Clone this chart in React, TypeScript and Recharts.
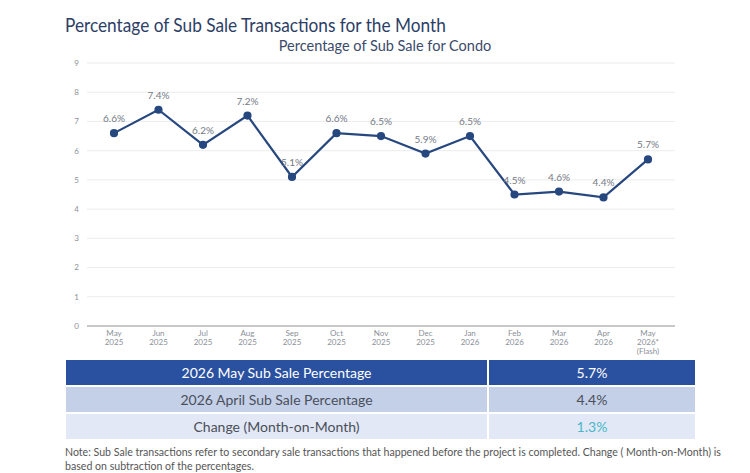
import React from 'react';
import {
  LineChart,
  Line,
  XAxis,
  YAxis,
  CartesianGrid,
  LabelList,
} from 'recharts';

const categories = [
  'May\n2025', 'Jun\n2025', 'Jul\n2025', 'Aug\n2025', 'Sep\n2025', 'Oct\n2025', 'Nov\n2025',
  'Dec\n2025', 'Jan\n2026', 'Feb\n2026', 'Mar\n2026', 'Apr\n2026', 'May\n2026*\n(Flash)',
];
const subSalePct = [6.6, 7.4, 6.2, 7.2, 5.1, 6.6, 6.5, 5.9, 6.5, 4.5, 4.6, 4.4, 5.7];
const yTicks = [0, 1, 2, 3, 4, 5, 6, 7, 8, 9];

const summaryLabels = ['2026 May Sub Sale Percentage', '2026 April Sub Sale Percentage', 'Change (Month-on-Month)'];
const summaryValues = ['5.7%', '4.4%', '1.3%'];

const data = categories.map((name, i) => ({ name, value: subSalePct[i] }));

const FONT = 'Lato, "Open Sans", sans-serif';
const NAVY = '#27477f';

// month / year / optional flash note stacked under each point
const MultiLineTick = (props: any) => {
  const { x, y, payload } = props;
  const lines = String(payload.value).split('\n');
  return (
    <text x={x} y={y + 2} textAnchor="middle" fill="#8a8f99" fontSize={8} fontFamily={FONT}>
      {lines.map((line, i) => (
        <tspan key={i} x={x} dy={i === 0 ? 0 : 9}>
          {line}
        </tspan>
      ))}
    </text>
  );
};

const rowStyles = [
  { background: '#2a51a0', color: '#ffffff', valueColor: '#ffffff' },
  { background: '#c4cfe8', color: '#4a4f5a', valueColor: '#4a4f5a' },
  { background: '#e2e8f5', color: '#4a4f5a', valueColor: '#45b8c9' },
];

export default function App() {
  return (
    <div style={{ position: 'absolute', left: 0, top: 0, width: 750, height: 473, background: '#fff', fontFamily: FONT, overflow: 'hidden' }}>
      <div
        style={{
          position: 'absolute',
          left: 65,
          top: 13,
          fontSize: 19,
          color: '#2c3e66',
          whiteSpace: 'nowrap',
          transform: 'scaleX(0.907)',
          transformOrigin: 'left top',
        }}
      >
        Percentage of Sub Sale Transactions for the Month
      </div>
      <div style={{ position: 'absolute', left: 0, width: 770, top: 37, fontSize: 14.5, color: '#3b4a6b', textAlign: 'center' }}>
        Percentage of Sub Sale for Condo
      </div>

      <div style={{ position: 'absolute', left: 0, top: 0 }}>
        <LineChart width={750} height={360} data={data} margin={{ top: 63, right: 75, left: 57, bottom: 4 }}>
          <CartesianGrid vertical={false} stroke="#ececec" />
          <XAxis
            dataKey="name"
            interval={0}
            tick={<MultiLineTick />}
            tickLine={false}
            axisLine={{ stroke: '#b8b8b8', strokeWidth: 1.5 }}
            padding={{ left: 27, right: 27 }}
            height={30}
          />
          <YAxis
            domain={[0, 9]}
            ticks={yTicks}
            width={30}
            axisLine={false}
            tickLine={false}
            tick={{ fill: '#8a8f99', fontSize: 8, fontFamily: FONT }}
          />
          <Line
            type="linear"
            dataKey="value"
            stroke={NAVY}
            strokeWidth={2.2}
            dot={{ r: 3, fill: NAVY, stroke: NAVY }}
            isAnimationActive={false}
          >
            <LabelList
              dataKey="value"
              position="top"
              offset={11}
              formatter={(v: any) => `${Number(v).toFixed(1)}%`}
              style={{ fill: '#747a86', fontSize: 10, fontFamily: FONT }}
            />
          </Line>
        </LineChart>
      </div>

      <div style={{ position: 'absolute', left: 66, top: 360, width: 629 }}>
        {summaryLabels.map((label, i) => (
          <div
            key={label}
            style={{
              display: 'flex',
              height: 25,
              marginBottom: 2,
              fontSize: 14,
              lineHeight: '25px',
            }}
          >
            <div style={{ width: 421, textAlign: 'center', background: rowStyles[i].background, color: rowStyles[i].color, marginRight: 2 }}>
              {label}
            </div>
            <div style={{ flex: 1, textAlign: 'center', background: rowStyles[i].background, color: rowStyles[i].valueColor }}>
              {summaryValues[i]}
            </div>
          </div>
        ))}
      </div>

      <div style={{ position: 'absolute', left: 65, top: 445, width: 672, fontSize: 10.6, lineHeight: '14px', color: '#555' }}>
        Note: Sub Sale transactions refer to secondary sale transactions that happened before the project is completed. Change ( Month-on-Month) is
        based on subtraction of the percentages.
      </div>
    </div>
  );
}
